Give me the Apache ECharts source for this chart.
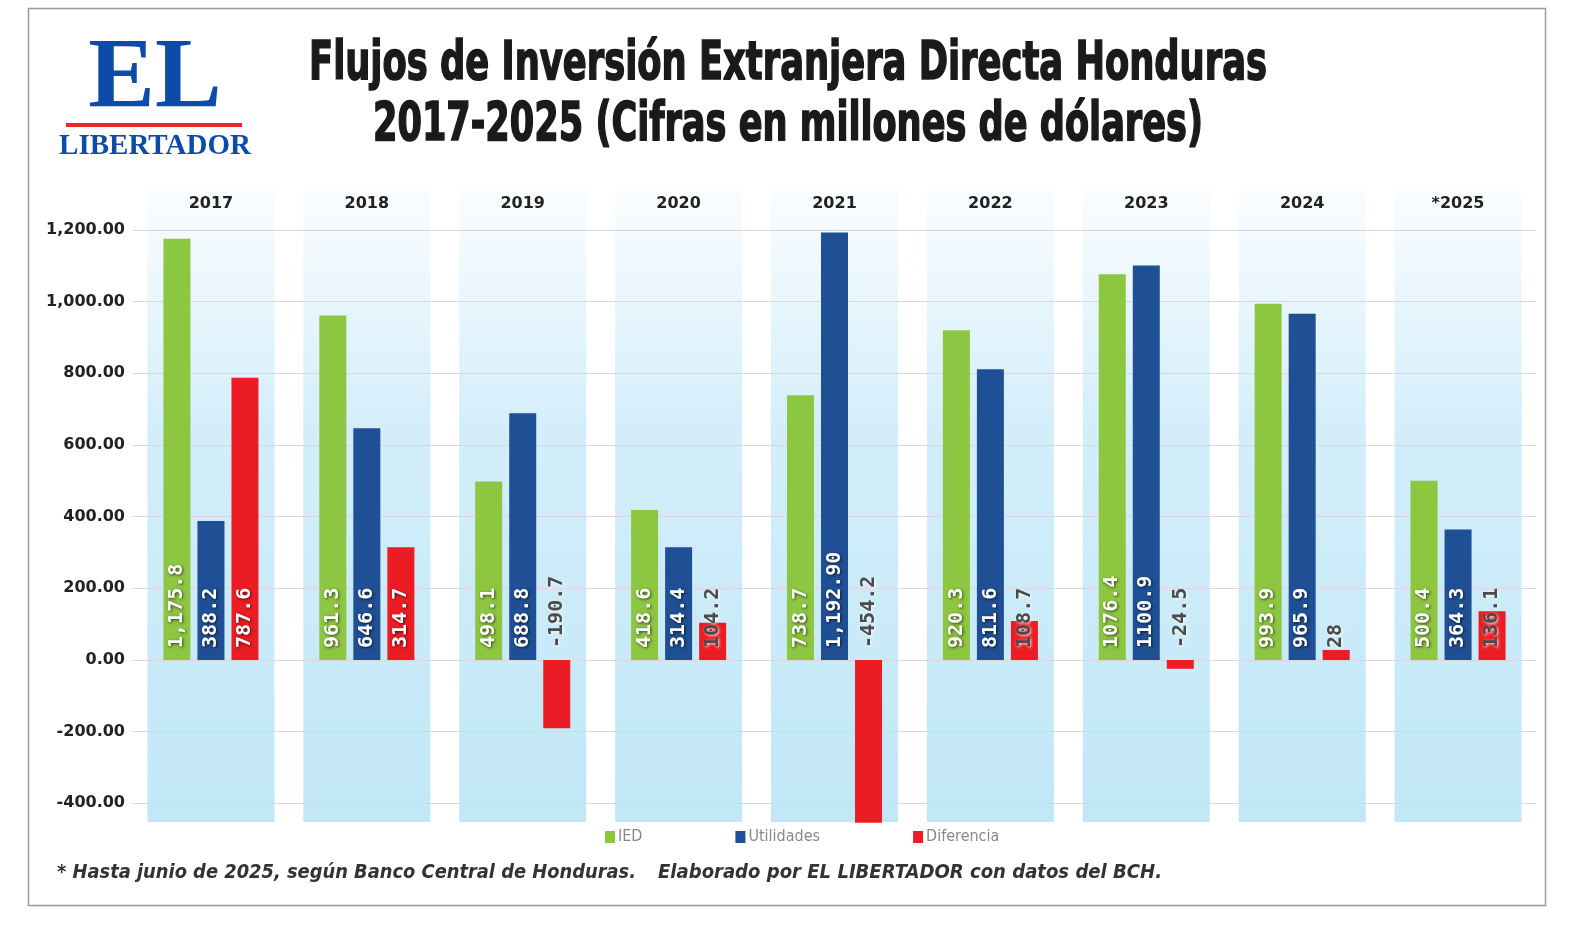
<!DOCTYPE html>
<html>
<head>
<meta charset="utf-8">
<title>Flujos de Inversión Extranjera Directa Honduras</title>
<script src="https://cdn.jsdelivr.net/npm/echarts@6/dist/echarts.min.js"></script>
<style>
  html, body { margin: 0; padding: 0; background: #fff; }
  #main { width: 1591px; height: 941px; }
</style>
</head>
<body>
<div id="main"></div>
<script>
// datos (millones de USD)
var years = ['2017', '2018', '2019', '2020', '2021', '2022', '2023', '2024', '*2025'];
var ied = [1175.8, 961.3, 498.1, 418.6, 738.7, 920.3, 1076.4, 993.9, 500.4];
var utilidades = [388.2, 646.6, 688.8, 314.4, 1192.9, 811.6, 1100.9, 965.9, 364.3];
var diferencia = [787.6, 314.7, -190.7, 104.2, -454.2, 108.7, -24.5, 28, 136.1];
// etiquetas tal como aparecen en el gráfico
var iedLabels = ['1,175.8', '961.3', '498.1', '418.6', '738.7', '920.3', '1076.4', '993.9', '500.4'];
var utilLabels = ['388.2', '646.6', '688.8', '314.4', '1,192.90', '811.6', '1100.9', '965.9', '364.3'];
var difLabels = ['787.6', '314.7', '-190.7', '104.2', '-454.2', '108.7', '-24.5', '28', '136.1'];

var GREEN = '#8dc641', BLUE = '#1f4f94', RED = '#ec1c24';

// escala horizontal para que el texto ocupe el ancho deseado
function fitScale(text, font, width) {
    var ctx = document.createElement('canvas').getContext('2d');
    ctx.font = font;
    return width / ctx.measureText(text).width;
}

var labelFont = 'DejaVu Sans Mono';
function whiteLabel(list) {
    return {
        show: true,
        position: 'insideBottom',
        distance: 12,
        rotate: 90,
        align: 'left',
        verticalAlign: 'middle',
        fontFamily: labelFont,
        fontWeight: 'bold',
        fontSize: 20,
        color: '#fff',
        textShadowColor: 'rgba(0,0,0,0.65)',
        textShadowBlur: 3,
        textShadowOffsetX: 1,
        textShadowOffsetY: 1,
        formatter: function (p) { return list[p.dataIndex]; }
    };
}

var titleFont = 'bold 54px "DejaVu Sans Condensed"';
var title1 = 'Flujos de Inversión Extranjera Directa Honduras';
var title2 = '2017-2025 (Cifras en millones de dólares)';
var noteFont = 'italic bold 20px "DejaVu Sans Condensed"';
var note1 = '* Hasta junio de 2025, según Banco Central de Honduras.';
var note2 = 'Elaborado por EL LIBERTADOR con datos del BCH.';

var chart = echarts.init(document.getElementById('main'));

var option = {
    backgroundColor: '#fff',
    animation: false,
    grid: { left: 133, right: 55, top: 158.3, bottom: 66 },
    legend: {
        left: 600,
        top: 824,
        itemWidth: 10,
        itemHeight: 12,
        itemGap: 93,
        icon: 'rect',
        data: ['IED', 'Utilidades', 'Diferencia'],
        textStyle: { color: '#888', fontSize: 16, fontFamily: 'DejaVu Sans Condensed', padding: [0, 0, 0, -2] }
    },
    xAxis: {
        type: 'category',
        data: years,
        position: 'top',
        offset: -71.7,
        axisLine: { show: false },
        axisTick: { show: false },
        axisLabel: {
            margin: 18,
            color: '#222',
            fontSize: 16,
            fontWeight: 'bold',
            fontFamily: 'DejaVu Sans'
        }
    },
    yAxis: {
        type: 'value',
        min: -600,
        max: 1400,
        interval: 200,
        axisLine: { show: false },
        axisTick: { show: false },
        axisLabel: {
            showMinLabel: false,
            showMaxLabel: false,
            margin: 8,
            color: '#222',
            fontSize: 16,
            fontWeight: 'bold',
            fontFamily: 'DejaVu Sans',
            formatter: function (v) {
                return v.toLocaleString('en-US', { minimumFractionDigits: 2, maximumFractionDigits: 2 });
            }
        },
        splitLine: {
            showMinLine: false,
            showMaxLine: false,
            lineStyle: { color: '#d8d8d8', width: 1 }
        }
    },
    series: [
        {
            // franjas de fondo por año
            type: 'custom',
            z: -1,
            silent: true,
            data: years.map(function (y, i) { return [i]; }),
            encode: { x: 0 },
            renderItem: function (params, api) {
                var cx = api.coord([api.value(0), 0])[0];
                var top = api.coord([api.value(0), 1317])[1];
                var bottom = api.coord([api.value(0), -452])[1];
                var w = api.size([1, 0])[0] * 0.815;
                return {
                    type: 'rect',
                    shape: { x: cx - w / 2, y: top, width: w, height: bottom - top },
                    style: {
                        fill: new echarts.graphic.LinearGradient(0, 0, 0, 1, [
                            { offset: 0, color: '#fbfdff' },
                            { offset: 0.38, color: '#d3eefa' },
                            { offset: 1, color: '#c1e7f7' }
                        ])
                    }
                };
            }
        },
        {
            name: 'IED',
            type: 'bar',
            data: ied,
            barWidth: 27,
            barGap: '26%',
            itemStyle: { color: GREEN },
            label: whiteLabel(iedLabels)
        },
        {
            name: 'Utilidades',
            type: 'bar',
            data: utilidades,
            barWidth: 27,
            barGap: '26%',
            itemStyle: { color: BLUE },
            label: whiteLabel(utilLabels)
        },
        {
            name: 'Diferencia',
            type: 'bar',
            barWidth: 27,
            barGap: '26%',
            itemStyle: { color: RED },
            label: whiteLabel(difLabels),
            data: diferencia.map(function (v) {
                var big = v > 200;
                return {
                    value: v,
                    label: {
                        position: v < 0 ? 'top' : 'insideBottom',
                        color: big ? '#fff' : '#4a4a4a',
                        textShadowColor: big ? 'rgba(0,0,0,0.65)' : 'rgba(255,255,255,0.9)'
                    }
                };
            })
        }
    ],
    graphic: [
        // marco
        {
            type: 'rect',
            shape: { x: 28.5, y: 8.5, width: 1517, height: 897 },
            style: { fill: 'none', stroke: '#9a9a9a', lineWidth: 1.5 },
            silent: true
        },
        // logo
        {
            type: 'text',
            x: 155, y: 80,
            style: {
                text: 'EL',
                font: 'bold 100px "Liberation Serif"',
                fill: '#0c4ba8',
                align: 'center',
                verticalAlign: 'middle'
            }
        },
        {
            type: 'rect',
            shape: { x: 66, y: 123, width: 176, height: 4 },
            style: { fill: '#e8262b' }
        },
        {
            type: 'text',
            x: 155, y: 147,
            style: {
                text: 'LIBERTADOR',
                font: 'bold 29px "Liberation Serif"',
                fill: '#0c4ba8',
                align: 'center',
                verticalAlign: 'middle'
            }
        },
        // título
        {
            type: 'text',
            x: 788, y: 65,
            scaleX: fitScale(title1, titleFont, 958),
            style: { text: title1, font: titleFont, fill: '#1a1a1a', stroke: '#1a1a1a', lineWidth: 1.6, align: 'center', verticalAlign: 'middle' }
        },
        {
            type: 'text',
            x: 788, y: 126,
            scaleX: fitScale(title2, titleFont, 830),
            style: { text: title2, font: titleFont, fill: '#1a1a1a', stroke: '#1a1a1a', lineWidth: 1.6, align: 'center', verticalAlign: 'middle' }
        },
        // nota al pie
        {
            type: 'text',
            x: 57, y: 873,
            scaleX: fitScale(note1, noteFont, 579),
            style: { text: note1, font: noteFont, fill: '#333', align: 'left', verticalAlign: 'middle' }
        },
        {
            type: 'text',
            x: 658, y: 873,
            scaleX: fitScale(note2, noteFont, 504),
            style: { text: note2, font: noteFont, fill: '#333', align: 'left', verticalAlign: 'middle' }
        }
    ]
};

chart.setOption(option);
</script>
</body>
</html>
